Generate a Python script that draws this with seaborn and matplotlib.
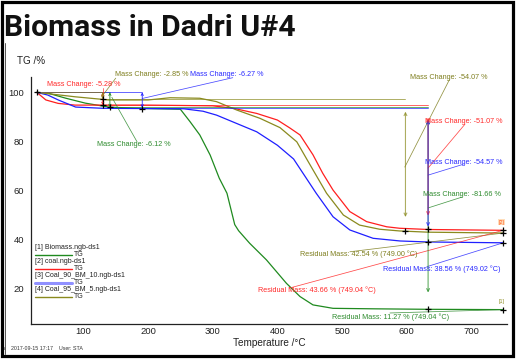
import numpy as np
import pandas as pd
import matplotlib
matplotlib.use("Agg")
import matplotlib.pyplot as plt
import seaborn as sns
from matplotlib.patches import Rectangle
from matplotlib.lines import Line2D

# ---------------- data ----------------
series_names = ["[1] Biomass.ngb-ds1", "[2] coal.ngb-ds1",
                "[3] Coal_90_BM_10.ngb-ds1", "[4] Coal_95_BM_5.ngb-ds1"]
series_colors = ["#1f8a1f", "#ff1f1f", "#1f1fff", "#8a8a1e"]

t_biomass = [28, 45, 73, 103, 139, 180, 250, 265, 280, 296, 310, 322, 334, 340, 357, 383, 414, 435, 455, 486, 550, 633, 749]
tg_biomass = [100, 99.7, 97.6, 95.6, 94.0, 93.5, 93.1, 88.0, 82.6, 74.4, 65.0, 58.8, 46.0, 43.5, 38.4, 31.6, 22.0, 16.6, 13.2, 11.8, 11.6, 11.4, 11.27]

t_coal = [28, 42, 61, 87, 200, 300, 332, 368, 400, 419, 435, 455, 470, 486, 512, 538, 569, 589, 633, 749]
tg_coal = [100, 96.9, 95.5, 94.8, 94.8, 94.5, 93.5, 91.4, 88.7, 85.5, 82.6, 74.5, 67.0, 60.1, 51.3, 47.2, 45.1, 44.5, 44.0, 43.66]

t_c90 = [28, 45, 62, 88, 130, 255, 285, 306, 337, 368, 400, 425, 460, 486, 512, 548, 590, 633, 749]
tg_c90 = [100, 98.9, 96.8, 94.0, 93.5, 93.3, 92.3, 90.7, 87.3, 83.9, 78.4, 72.8, 58.8, 49.2, 43.8, 40.4, 39.3, 38.9, 38.56]

t_c95 = [28, 41, 87, 139, 200, 234, 280, 306, 337, 373, 404, 430, 447, 476, 502, 527, 558, 589, 633, 749]
tg_c95 = [100, 99.6, 98.2, 96.9, 96.9, 97.8, 97.6, 96.2, 92.8, 89.4, 85.6, 79.8, 72.0, 58.8, 49.9, 45.8, 44.1, 43.4, 42.9, 42.54]

# evaluation results (NETZSCH style)
step1_temp = [141, 130, 191, 130]
step1_change = [-6.12, -5.28, -6.27, -2.85]
step2_temp = [633, 633, 633, 598]
step2_change = [-81.66, -51.07, -54.57, -54.07]
residual_mass = [11.27, 43.66, 38.56, 42.54]
residual_temp = [749.04, 749.04, 749.02, 749.00]

x_ticks = [100, 200, 300, 400, 500, 600, 700]
y_ticks = [20, 40, 60, 80, 100]

all_t = [t_biomass, t_coal, t_c90, t_c95]
all_tg = [tg_biomass, tg_coal, tg_c90, tg_c95]

frames = []
for nm, t, g in zip(series_names, all_t, all_tg):
    frames.append(pd.DataFrame({"T": t, "TG": g, "series": nm}))
df = pd.concat(frames, ignore_index=True)

# ---------------- figure ----------------
sns.set_style("white")
plt.rcParams["font.family"] = ["Liberation Sans", "DejaVu Sans"]

W, H = 519, 364
fig = plt.figure(figsize=(W / 100, H / 100), dpi=100)
ax = fig.add_axes([31 / W, 1 - 324 / H, 476 / W, 247.3 / H])

sns.lineplot(data=df, x="T", y="TG", hue="series", palette=dict(zip(series_names, series_colors)),
             ax=ax, lw=0.9, legend=False, sort=False, estimator=None)

ax.set_xlim(19, 755)
ax.set_ylim(5.4, 106.4)
ax.set_xticks(x_ticks)
ax.set_yticks(y_ticks)
ax.set_xticks(np.arange(25, 751, 25), minor=True)
ax.set_yticks(np.arange(10, 106, 10), minor=True)
ax.set_xlabel("")
ax.set_ylabel("")
for s in ["top", "right"]:
    ax.spines[s].set_visible(False)
for s in ["left", "bottom"]:
    ax.spines[s].set_color("#222222")
    ax.spines[s].set_linewidth(0.9)
ax.tick_params(axis="x", which="major", direction="in", length=3, width=0.7, labelsize=6.8, pad=2.5, colors="#222222")
ax.tick_params(axis="x", which="minor", direction="in", length=2, width=0.6)
ax.tick_params(axis="y", which="major", direction="out", length=3, width=0.7, labelsize=6.8, pad=2, colors="#222222")
ax.tick_params(axis="y", which="minor", direction="out", length=1.8, width=0.6)

fs_ann = 5.2
lw_ann = 0.6

def cross(x, y):
    ax.plot([x], [y], marker="+", ms=5, mew=0.9, color="black", zorder=6)

for i in range(4):
    c = series_colors[i]
    t = all_t[i]
    g = all_tg[i]
    t0 = t[0]
    s1 = step1_temp[i]
    lvl1 = 100 + step1_change[i]
    s2 = step2_temp[i]
    lvl2 = lvl1 + step2_change[i]
    ax.plot([t0, s1], [100, 100], color=c, lw=lw_ann, alpha=0.8)
    ax.annotate("", xy=(s1, lvl1), xytext=(s1, 100),
                arrowprops=dict(arrowstyle="<->", color=c, lw=lw_ann, mutation_scale=4, shrinkA=0, shrinkB=0))
    ax.plot([s1, s2], [lvl1, lvl1], color=c, lw=lw_ann, alpha=0.8)
    ax.annotate("", xy=(s2, lvl2 + 6), xytext=(s2, lvl1 - 5),
                arrowprops=dict(arrowstyle="<->", color=c, lw=0.8, alpha=0.7, mutation_scale=5, shrinkA=0, shrinkB=0))
    cross(s1, np.interp(s1, t, g))
    cross(s2, np.interp(s2, t, g))
    cross(t[-1], g[-1])
cross(t_biomass[0], tg_biomass[0])

# ----- text annotations -----
def ann(text, color, tx, ty, lx, ly, px, py, ha="left"):
    ax.plot([lx, px], [ly, py], color=color, lw=0.55, alpha=0.85)
    ax.text(tx, ty, text, color=color, fontsize=fs_ann, ha=ha, va="center")

g_c, r_c, b_c, o_c = "#2e8b2e", "#ff2a2a", "#2a2aff", "#7f7f1f"
ann("Mass Change: -5.28 %", r_c, 43, 103.4, 130, 101.6, 130, 98.2)
ann("Mass Change: -2.85 %", o_c, 149, 107.1, 150, 105.8, 130, 98.8)
ann("Mass Change: -6.27 %", b_c, 265, 107.1, 331, 106.0, 191, 97.5)
ann("Mass Change: -6.12 %", g_c, 121, 78.9, 183, 79.8, 144, 98.0)

ann("Mass Change: -54.07 %", o_c, 605, 106.2, 666, 105.2, 597, 69.5)
ann("Mass Change: -51.07 %", r_c, 628, 87.9, 690, 87.0, 633, 69.1)
ann("Mass Change: -54.57 %", b_c, 628, 71.5, 687, 70.6, 633, 66.2)
ann("Mass Change: -81.66 %", g_c, 625, 58.1, 685, 57.2, 633, 52.8)

ann("Residual Mass: 42.54 % (749.00 °C)", o_c, 435, 34.0, 512, 34.9, 749, residual_mass[3])
ann("Residual Mass: 38.56 % (749.02 °C)", b_c, 563, 27.6, 631, 28.8, 749, residual_mass[2])
ann("Residual Mass: 43.66 % (749.04 °C)", r_c, 370, 19.3, 419, 20.1, 749, residual_mass[1])
ann("Residual Mass: 11.27 % (749.04 °C)", g_c, 484, 8.3, 574, 9.9, 749, residual_mass[0])

ax.text(746, 14.5, "[1]", color="#8a8a1e", fontsize=3.8, ha="center", va="center")
ax.text(746, 47.0, "[2]", color="#ff5a1f", fontsize=3.8, ha="center", va="center",
        bbox=dict(boxstyle="square,pad=0.1", fc="#ffd0a0", ec="none", alpha=0.7))

# ----- legend (drawn in axes coordinates) -----
ax0x, ax0y, axw, axh = 31, 76.7, 476, 247.3
def axpos(px, py):
    return (px - ax0x) / axw, 1 - (py - ax0y) / axh
leg_lw = [1.0, 1.0, 2.2, 1.0]
leg_cols = ["#1f8a1f", "#ff1f1f", "#9090ff", "#8a8a1e"]
for k in range(4):
    yl = 247.7 + 14 * k
    x1, y1 = axpos(35, yl)
    ax.text(x1, y1, series_names[k], transform=ax.transAxes, fontsize=5.0, va="center", ha="left", color="#222222")
    xa, ya = axpos(35, yl + 7.5)
    xb, _ = axpos(72, yl + 7.5)
    ax.add_line(Line2D([xa, xb], [ya, ya], transform=ax.transAxes, color=leg_cols[k], lw=leg_lw[k]))
    xt, yt = axpos(73.5, yl + 7)
    ax.text(xt, yt, "TG", transform=ax.transAxes, fontsize=5.0, va="center", ha="left", color="#222222")

# ----- figure texts -----
fig.text(4 / W, 1 - 36 / H, "Biomass in Dadri U#4", fontsize=21.7, fontweight="bold",
         ha="left", va="baseline", color="#111111", family=["Roboto", "DejaVu Sans"])
fig.text(17 / W, 1 - 61 / H, "TG /%", fontsize=7.1, ha="left", va="center", color="#222222")
fig.text(269 / W, 1 - 343.5 / H, "Temperature /°C", fontsize=7.2, ha="center", va="center", color="#222222")
fig.text(2 / W, 1 - 348 / H, "n    2017-09-15 17:17    User: STA", fontsize=3.8, ha="left", va="center", color="#333333")

# frame
fig.patches.append(Rectangle((1.5 / W, 1 - 355.5 / H), 511.5 / W, 354 / H, transform=fig.transFigure,
                             fill=False, ec="black", lw=2.3, zorder=10))
fig.lines.append(Line2D([5 / W, 5 / W], [1 - 43 / H, 1 - 354 / H], transform=fig.transFigure, color="#555555", lw=0.7))

fig.savefig("out.png", dpi=100)
